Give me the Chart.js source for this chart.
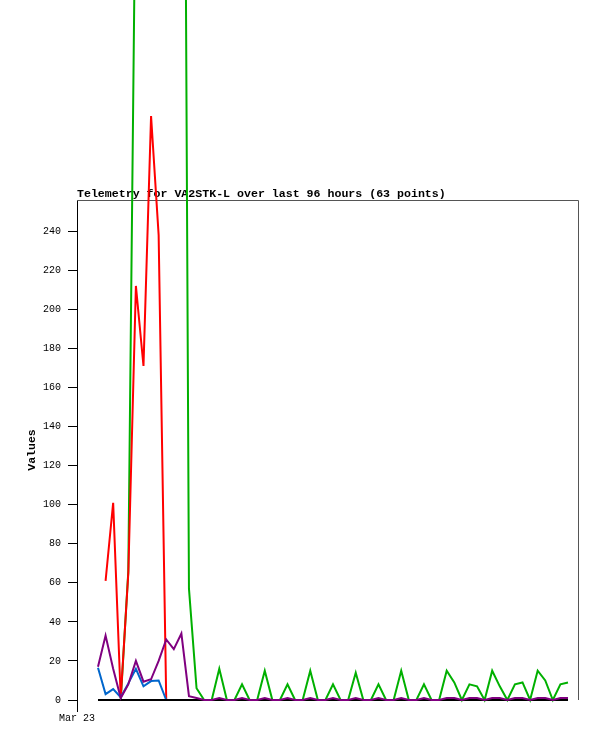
<!DOCTYPE html>
<html><head><meta charset="utf-8">
<script src="https://cdn.jsdelivr.net/npm/chart.js@4.4.1/dist/chart.umd.min.js"></script>
<style>html,body{margin:0;padding:0;background:#fff;overflow:hidden}#wrap{position:relative;width:597px;height:741px}</style>
</head><body><div id="wrap"><canvas id="c" width="597" height="741"></canvas></div>
<script>
const chartTitle = "Telemetry for VA2STK-L over last 96 hours (63 points)";
const yAxisTitle = "Values";
const xTickLabels = ["Mar 23"];
const yTickValues = [0, 20, 40, 60, 80, 100, 120, 140, 160, 180, 200, 220, 240];
const pointIndex = [0,1,2,3,4,5,6,7,8,9,10,11,12,13,14,15,16,17,18,19,20,21,22,23,24,25,26,27,28,29,30,31,32,33,34,35,36,37,38,39,40,41,42,43,44,45,46,47,48,49,50,51,52,53,54,55,56,57,58,59,60,61,62];
const greenSeries = [0,0,0,0,66,440,600,700,760,800,820,820,57,6,0,0,16,0,0,8,0,0,15,0,0,8,0,0,15,0,0,8,0,0,14,0,0,8,0,0,15,0,0,8,0,0,15,9,0,8,7,0,15,7,0,8,9,0,15,10,0,8,9];
const redSeries = [null,61,101,1,65,212,171,299,238,0,0,0,0,0,0,0,0,0,0,0,0,0,0,0,0,0,0,0,0,0,0,0,0,0,0,0,0,0,0,0,0,0,0,0,0,0,0,0,0,0,0,0,0,0,0,0,0,0,0,0,0,0,0];
const blueSeries = [16.5,3,5.6,1.4,8.5,16,7,9.7,10,0,0,0,0,0,0,0,0,0,0,0,0,0,0,0,0,0,0,0,0,0,0,0,0,0,0,0,0,0,0,0,0,0,0,0,0,0,0,0,0,0,0,0,0,0,0,0,0,0,0,0,0,0,0];
const purpleSeries = [17,33,16,1,8,20,9.4,10.6,20,31,26,34,2,1,0,0,1,0,0,1,0,0,1,0,0,1,0,0,1,0,0,1,0,0,1,0,0,1,0,0,1,0,0,1,0,0,1,1,0,1,1,0,1,1,0,1,1,0,1,1,0,1,1];
const blackSeries = [0,0,0,0,0,0,0,0,0,0,0,0,0,0,0,0,0,0,0,0,0,0,0,0,0,0,0,0,0,0,0,0,0,0,0,0,0,0,0,0,0,0,0,0,0,0,0,0,0,0,0,0,0,0,0,0,0,0,0,0,0,0,0];

const MONO = "'Liberation Mono', 'DejaVu Sans Mono', monospace";
const toPts = arr => arr.map((v, i) => ({x: pointIndex[i], y: v}));

const framePlugin = {
  id: 'frame',
  beforeDatasetsDraw(chart) {
    const {ctx, chartArea: a} = chart;
    ctx.save();
    ctx.strokeStyle = '#555';
    ctx.lineWidth = 1;
    ctx.beginPath();
    ctx.moveTo(a.left, a.top + 0.5);
    ctx.lineTo(a.right + 0.5, a.top + 0.5);
    ctx.lineTo(a.right + 0.5, a.bottom);
    ctx.stroke();
    ctx.fillStyle = '#000';
    ctx.font = "bold 11.6px " + MONO;
    ctx.textAlign = 'left';
    ctx.textBaseline = 'alphabetic';
    ctx.fillText(chartTitle, a.left, a.top - 3);
    ctx.restore();
  }
};

const ds = (data, color, order) => ({
  data: toPts(data), borderColor: color, backgroundColor: color, borderWidth: 2,
  pointRadius: 0, tension: 0, clip: false, fill: false, order: order, spanGaps: false
});

new Chart(document.getElementById('c'), {
  type: 'line',
  data: {
    datasets: [
      ds(greenSeries, '#00b000', 5),
      ds(redSeries, '#ff0000', 4),
      ds(blueSeries, '#0066cc', 3),
      ds(blackSeries, '#000000', 2),
      ds(purpleSeries, '#800080', 1)
    ]
  },
  options: {
    responsive: false,
    animation: false,
    devicePixelRatio: 1,
    layout: {padding: {left: 0, right: 19, top: 200, bottom: 0}},
    plugins: {legend: {display: false}, tooltip: {enabled: false}, title: {display: false}},
    scales: {
      x: {
        type: 'linear', min: -2.77, max: 63.32,
        afterFit(s) { s.height = 41; },
        afterBuildTicks(s) { s.ticks = [{value: s.min}]; },
        ticks: {callback: (v, i) => xTickLabels[i], font: {family: MONO, size: 10}, color: '#000', padding: 0, maxRotation: 0, autoSkip: false},
        grid: {drawOnChartArea: false, tickLength: 12, color: '#000', lineWidth: 1},
        border: {display: false}
      },
      y: {
        type: 'linear', min: 0, max: 256,
        afterFit(s) { s.width = 77; },
        afterBuildTicks(s) { s.ticks = yTickValues.map(v => ({value: v})); },
        ticks: {font: {family: MONO, size: 10}, color: '#000', padding: 7, includeBounds: false},
        grid: {drawOnChartArea: false, tickLength: 9, color: '#000', lineWidth: 1},
        border: {display: true, color: '#000', width: 1},
        title: {display: true, text: yAxisTitle, color: '#000', font: {family: MONO, size: 11.5, weight: 'bold'}, padding: {top: 25, bottom: 0}}
      }
    }
  },
  plugins: [framePlugin]
});
</script>
</body></html>
